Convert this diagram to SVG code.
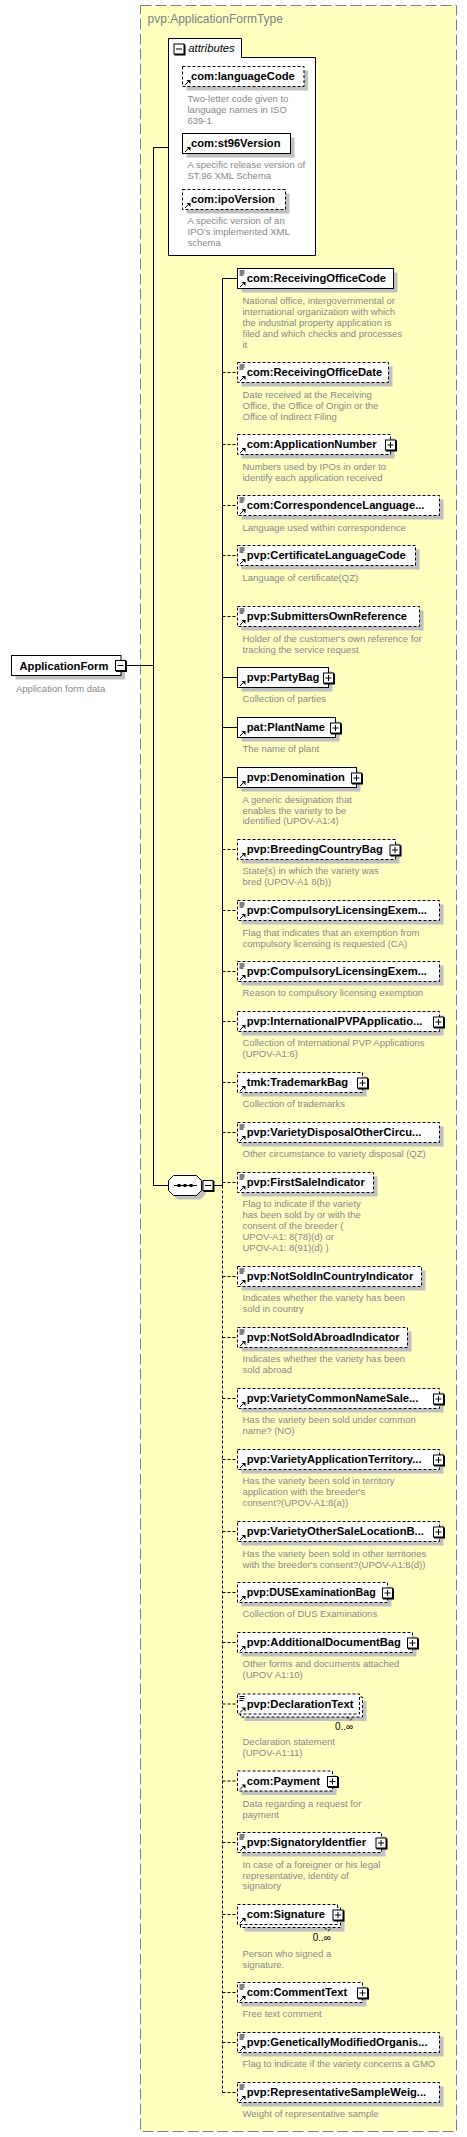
<svg xmlns="http://www.w3.org/2000/svg" width="467" height="2137" viewBox="0 0 467 2137">
<style>
.bg{fill:#ffffc0;stroke:#808080;stroke-dasharray:11 4}
.title{font:12px 'Liberation Sans',Arial,sans-serif;fill:#808080}
.sh{fill:#c0c0c0}
.box{fill:#fff;stroke:#000}
.dash{stroke-dasharray:3 2}
.lbl{font:bold 11.2px 'Liberation Sans',Arial,sans-serif;fill:#000}
.desc{font:9.5px 'Liberation Sans',Arial,sans-serif;fill:#888}
.mult{font:10px 'Liberation Sans',Arial,sans-serif;fill:#000}
.ln{fill:none;stroke:#000}
.ld{fill:none;stroke:#000;stroke-dasharray:3 2}
</style>
<defs>
<g id="list"><path d="M2 2.5h5M2 4.5h5M2 6.5h4" stroke="#000"/></g>
<g id="ref"><path d="M2.5 18.5L5.5 15.5" stroke="#000"/><path d="M4 13.5H8V17.5Z" fill="#000"/></g>
<g id="plus"><rect x="1" y="1" width="11" height="11" fill="#000"/><rect x="0.5" y="0.5" width="10" height="10" fill="#fff" stroke="#000"/><path d="M2.5 5.5h6M5.5 2.5v6" stroke="#000"/></g>
<g id="minus"><rect x="1" y="1" width="11" height="11" fill="#000"/><rect x="0.5" y="0.5" width="10" height="10" fill="#fff" stroke="#000"/><path d="M2.5 5.5h6" stroke="#000"/></g>
</defs>

<g id="type-box">
<rect class="bg" x="140.5" y="5.5" width="316" height="2126"/>
<text class="title" x="147.5" y="22.5">pvp:ApplicationFormType</text>
</g>

<g id="connectors">
<path class="ln" d="M126 665.5H153.5M153.5 147.5V1185.5M153.5 147.5H168.5M153.5 1185.5H168.5M213.5 1185.5H222.5M222.5 278.5V1185.5"/>
<path class="ld" d="M222.5 1185.5V2092.5"/>
<path class="ln" d="M222.5 278.5H237.5M222.5 677.5H237.5M222.5 727.5H237.5M222.5 777.5H237.5"/>
<path class="ld" d="M222.5 372.5H237.5M222.5 444.5H237.5M222.5 505.5H237.5M222.5 555.5H237.5M222.5 616.5H237.5M222.5 849.5H237.5M222.5 910.5H237.5M222.5 971.5H237.5M222.5 1021.5H237.5M222.5 1082.5H237.5M222.5 1132.5H237.5M222.5 1182.5H237.5M222.5 1276.5H237.5M222.5 1337.5H237.5M222.5 1398.5H237.5M222.5 1459.5H237.5M222.5 1531.5H237.5M222.5 1592.5H237.5M222.5 1642.5H237.5M222.5 1704H237.5M222.5 1781H237.5M222.5 1842.5H237.5M222.5 1914.5H237.5M222.5 1992.5H237.5M222.5 2042.5H237.5M222.5 2092.5H237.5"/>
</g>

<g id="ApplicationForm">
<rect class="sh" x="15.5" y="659.5" width="109.5" height="20"/>
<rect class="box" x="11.5" y="655.5" width="109.5" height="20"/>
<text class="lbl" x="19.5" y="669.5">ApplicationForm</text>
<use href="#minus" x="115" y="660"/>
<text class="desc" x="16" y="691.7">Application form data</text>
</g>

<g id="attributes">
<path class="box" d="M168.5 255.5V38.5H241.5V57.5H315.5V255.5Z"/>
<use href="#minus" x="173.5" y="43.5"/>
<text x="188.3" y="51.7" style="font:italic 11.3px 'Liberation Sans',Arial,sans-serif">attributes</text>
</g>

<g id="attr-languageCode">
<rect class="sh" x="186.5" y="70.5" width="121.5" height="20"/>
<rect class="box dash" x="182.5" y="66.5" width="121.5" height="20"/>
<use href="#ref" x="182.5" y="66.5"/>
<text class="lbl" x="191" y="80">com:languageCode</text>
<text class="desc" x="187.5" y="101.7">Two-letter code given to<tspan x="187.5" dy="10.9">language names in ISO</tspan><tspan x="187.5" dy="10.9">639-1</tspan></text>
</g>

<g id="attr-st96Version">
<rect class="sh" x="186.5" y="137.5" width="108" height="20"/>
<rect class="box" x="182.5" y="133.5" width="108" height="20"/>
<use href="#ref" x="182.5" y="133.5"/>
<text class="lbl" x="191" y="147">com:st96Version</text>
<text class="desc" x="187.5" y="168.3">A specific release version of<tspan x="187.5" dy="10.9">ST.96 XML Schema</tspan></text>
</g>

<g id="attr-ipoVersion">
<rect class="sh" x="186.5" y="193.5" width="103" height="20"/>
<rect class="box dash" x="182.5" y="189.5" width="103" height="20"/>
<use href="#ref" x="182.5" y="189.5"/>
<text class="lbl" x="191" y="203">com:ipoVersion</text>
<text class="desc" x="187.5" y="224.3">A specific version of an<tspan x="187.5" dy="10.9">IPO’s implemented XML</tspan><tspan x="187.5" dy="10.9">schema</tspan></text>
</g>

<g id="sequence">
<polygon class="sh" points="177.5,1179.5 200.5,1179.5 205.5,1184.5 205.5,1194.5 200.5,1199.5 177.5,1199.5 172.5,1194.5 172.5,1184.5"/>
<polygon class="box" points="173.5,1175.5 196.5,1175.5 201.5,1180.5 201.5,1190.5 196.5,1195.5 173.5,1195.5 168.5,1190.5 168.5,1180.5"/>
<path d="M174 1185.5H197" stroke="#000"/>
<rect x="177.5" y="1184" width="3" height="3" fill="#000"/>
<rect x="183.5" y="1184" width="3" height="3" fill="#000"/>
<rect x="189.5" y="1184" width="3" height="3" fill="#000"/>
<use href="#minus" x="202.5" y="1180"/>
</g>

<g id="n01">
<rect class="sh" x="241.5" y="272.5" width="156" height="20"/>
<rect class="box" x="237.5" y="268.5" width="156" height="20"/>
<use href="#list" x="237.5" y="268.5"/><use href="#ref" x="237.5" y="268.5"/>
<text class="lbl" x="246.7" y="282">com:ReceivingOfficeCode</text>
<text class="desc" x="242.5" y="304.3">National office, intergovernmental or<tspan x="242.5" dy="10.9">international organization with which</tspan><tspan x="242.5" dy="10.9">the industrial property application is</tspan><tspan x="242.5" dy="10.9">filed and which checks and processes</tspan><tspan x="242.5" dy="10.9">it</tspan></text>
</g>

<g id="n02">
<rect class="sh" x="241.5" y="366.5" width="151" height="20"/>
<rect class="box dash" x="237.5" y="362.5" width="151" height="20"/>
<use href="#list" x="237.5" y="362.5"/><use href="#ref" x="237.5" y="362.5"/>
<text class="lbl" x="246.7" y="376">com:ReceivingOfficeDate</text>
<text class="desc" x="242.5" y="398.3">Date received at the Receiving<tspan x="242.5" dy="10.8">Office, the Office of Origin or the</tspan><tspan x="242.5" dy="10.8">Office of Indirect Filing</tspan></text>
</g>

<g id="n03">
<rect class="sh" x="241.5" y="438.5" width="153" height="20"/>
<rect class="box dash" x="237.5" y="434.5" width="153" height="20"/>
<use href="#ref" x="237.5" y="434.5"/>
<text class="lbl" x="246.7" y="448">com:ApplicationNumber</text>
<use href="#plus" x="385" y="439.5"/>
<text class="desc" x="242.5" y="470">Numbers used by IPOs in order to<tspan x="242.5" dy="10.8">identify each application received</tspan></text>
</g>

<g id="n04">
<rect class="sh" x="241.5" y="499.5" width="202" height="20"/>
<rect class="box dash" x="237.5" y="495.5" width="202" height="20"/>
<use href="#list" x="237.5" y="495.5"/><use href="#ref" x="237.5" y="495.5"/>
<text class="lbl" x="246.7" y="509">com:CorrespondenceLanguage...</text>
<text class="desc" x="242.5" y="530.7">Language used within correspondence</text>
</g>

<g id="n05">
<rect class="sh" x="241.5" y="549.5" width="178" height="20"/>
<rect class="box dash" x="237.5" y="545.5" width="178" height="20"/>
<use href="#list" x="237.5" y="545.5"/><use href="#ref" x="237.5" y="545.5"/>
<text class="lbl" x="246.7" y="559">pvp:CertificateLanguageCode</text>
<text class="desc" x="242.5" y="580.7">Language of certificate(QZ)</text>
</g>

<g id="n06">
<rect class="sh" x="241.5" y="610.5" width="182" height="20"/>
<rect class="box dash" x="237.5" y="606.5" width="182" height="20"/>
<use href="#list" x="237.5" y="606.5"/><use href="#ref" x="237.5" y="606.5"/>
<text class="lbl" x="246.7" y="620">pvp:SubmittersOwnReference</text>
<text class="desc" x="242.5" y="641.7">Holder of the customer's own reference for<tspan x="242.5" dy="10.8">tracking the service request</tspan></text>
</g>

<g id="n07">
<rect class="sh" x="241.5" y="671.5" width="91" height="20"/>
<rect class="box" x="237.5" y="667.5" width="91" height="20"/>
<use href="#ref" x="237.5" y="667.5"/>
<text class="lbl" x="246.7" y="681">pvp:PartyBag</text>
<use href="#plus" x="323" y="672.5"/>
<text class="desc" x="242.5" y="702.3">Collection of parties</text>
</g>

<g id="n08">
<rect class="sh" x="241.5" y="721.5" width="98" height="20"/>
<rect class="box" x="237.5" y="717.5" width="98" height="20"/>
<use href="#ref" x="237.5" y="717.5"/>
<text class="lbl" x="246.7" y="731">pat:PlantName</text>
<use href="#plus" x="330" y="722.5"/>
<text class="desc" x="242.5" y="752.3">The name of plant</text>
</g>

<g id="n09">
<rect class="sh" x="241.5" y="771.5" width="119" height="20"/>
<rect class="box" x="237.5" y="767.5" width="119" height="20"/>
<use href="#ref" x="237.5" y="767.5"/>
<text class="lbl" x="246.7" y="781">pvp:Denomination</text>
<use href="#plus" x="351" y="772.5"/>
<text class="desc" x="242.5" y="802.7">A generic designation that<tspan x="242.5" dy="10.8">enables the variety to be</tspan><tspan x="242.5" dy="10.8">identified (UPOV-A1:4)</tspan></text>
</g>

<g id="n10">
<rect class="sh" x="241.5" y="843.5" width="158" height="20"/>
<rect class="box dash" x="237.5" y="839.5" width="158" height="20"/>
<use href="#ref" x="237.5" y="839.5"/>
<text class="lbl" x="246.7" y="853">pvp:BreedingCountryBag</text>
<use href="#plus" x="389.5" y="844.5"/>
<text class="desc" x="242.5" y="874.3">State(s) in which the variety was<tspan x="242.5" dy="10.8">bred (UPOV-A1 8(b))</tspan></text>
</g>

<g id="n11">
<rect class="sh" x="241.5" y="904.5" width="202" height="20"/>
<rect class="box dash" x="237.5" y="900.5" width="202" height="20"/>
<use href="#list" x="237.5" y="900.5"/><use href="#ref" x="237.5" y="900.5"/>
<text class="lbl" x="246.7" y="914">pvp:CompulsoryLicensingExem...</text>
<text class="desc" x="242.5" y="935.7">Flag that indicates that an exemption from<tspan x="242.5" dy="10.8">compulsory licensing is requested (CA)</tspan></text>
</g>

<g id="n12">
<rect class="sh" x="241.5" y="965.5" width="202" height="20"/>
<rect class="box dash" x="237.5" y="961.5" width="202" height="20"/>
<use href="#list" x="237.5" y="961.5"/><use href="#ref" x="237.5" y="961.5"/>
<text class="lbl" x="246.7" y="975">pvp:CompulsoryLicensingExem...</text>
<text class="desc" x="242.5" y="996">Reason to compulsory licensing exemption</text>
</g>

<g id="n13">
<rect class="sh" x="241.5" y="1015.5" width="202" height="20"/>
<rect class="box dash" x="237.5" y="1011.5" width="202" height="20"/>
<use href="#ref" x="237.5" y="1011.5"/>
<text class="lbl" x="246.7" y="1025">pvp:InternationalPVPApplicatio...</text>
<use href="#plus" x="433" y="1016.5"/>
<text class="desc" x="242.5" y="1046">Collection of International PVP Applications<tspan x="242.5" dy="10.9">(UPOV-A1:6)</tspan></text>
</g>

<g id="n14">
<rect class="sh" x="241.5" y="1076.5" width="125" height="20"/>
<rect class="box dash" x="237.5" y="1072.5" width="125" height="20"/>
<use href="#ref" x="237.5" y="1072.5"/>
<text class="lbl" x="246.7" y="1086">tmk:TrademarkBag</text>
<use href="#plus" x="357" y="1077.5"/>
<text class="desc" x="242.5" y="1106.7">Collection of trademarks</text>
</g>

<g id="n15">
<rect class="sh" x="241.5" y="1126.5" width="202" height="20"/>
<rect class="box dash" x="237.5" y="1122.5" width="202" height="20"/>
<use href="#list" x="237.5" y="1122.5"/><use href="#ref" x="237.5" y="1122.5"/>
<text class="lbl" x="246.7" y="1136">pvp:VarietyDisposalOtherCircu...</text>
<text class="desc" x="242.5" y="1157">Other circumstance to variety disposal (QZ)</text>
</g>

<g id="n16">
<rect class="sh" x="241.5" y="1176.5" width="136" height="20"/>
<rect class="box dash" x="237.5" y="1172.5" width="136" height="20"/>
<use href="#list" x="237.5" y="1172.5"/><use href="#ref" x="237.5" y="1172.5"/>
<text class="lbl" x="246.7" y="1186">pvp:FirstSaleIndicator</text>
<text class="desc" x="242.5" y="1207.3">Flag to indicate if the variety<tspan x="242.5" dy="10.9">has been sold by or with the</tspan><tspan x="242.5" dy="10.9">consent of the breeder (</tspan><tspan x="242.5" dy="10.9">UPOV-A1: 8(78)(d) or</tspan><tspan x="242.5" dy="10.9">UPOV-A1: 8(91)(d) )</tspan></text>
</g>

<g id="n17">
<rect class="sh" x="241.5" y="1270.5" width="184" height="20"/>
<rect class="box dash" x="237.5" y="1266.5" width="184" height="20"/>
<use href="#list" x="237.5" y="1266.5"/><use href="#ref" x="237.5" y="1266.5"/>
<text class="lbl" x="246.7" y="1280">pvp:NotSoldInCountryIndicator</text>
<text class="desc" x="242.5" y="1301.3">Indicates whether the variety has been<tspan x="242.5" dy="10.8">sold in country</tspan></text>
</g>

<g id="n18">
<rect class="sh" x="241.5" y="1331.5" width="170" height="20"/>
<rect class="box dash" x="237.5" y="1327.5" width="170" height="20"/>
<use href="#list" x="237.5" y="1327.5"/><use href="#ref" x="237.5" y="1327.5"/>
<text class="lbl" x="246.7" y="1341">pvp:NotSoldAbroadIndicator</text>
<text class="desc" x="242.5" y="1362.3">Indicates whether the variety has been<tspan x="242.5" dy="10.8">sold abroad</tspan></text>
</g>

<g id="n19">
<rect class="sh" x="241.5" y="1392.5" width="202" height="20"/>
<rect class="box dash" x="237.5" y="1388.5" width="202" height="20"/>
<use href="#ref" x="237.5" y="1388.5"/>
<text class="lbl" x="246.7" y="1402">pvp:VarietyCommonNameSale...</text>
<use href="#plus" x="433" y="1393.5"/>
<text class="desc" x="242.5" y="1423.3">Has the variety been sold under common<tspan x="242.5" dy="10.8">name? (NO)</tspan></text>
</g>

<g id="n20">
<rect class="sh" x="241.5" y="1453.5" width="202" height="20"/>
<rect class="box dash" x="237.5" y="1449.5" width="202" height="20"/>
<use href="#ref" x="237.5" y="1449.5"/>
<text class="lbl" x="246.7" y="1463">pvp:VarietyApplicationTerritory...</text>
<use href="#plus" x="433" y="1454.5"/>
<text class="desc" x="242.5" y="1484.3">Has the variety been sold in territory<tspan x="242.5" dy="10.8">application with the breeder's</tspan><tspan x="242.5" dy="10.8">consent?(UPOV-A1:8(a))</tspan></text>
</g>

<g id="n21">
<rect class="sh" x="241.5" y="1525.5" width="202" height="20"/>
<rect class="box dash" x="237.5" y="1521.5" width="202" height="20"/>
<use href="#ref" x="237.5" y="1521.5"/>
<text class="lbl" x="246.7" y="1535">pvp:VarietyOtherSaleLocationB...</text>
<use href="#plus" x="433" y="1526.5"/>
<text class="desc" x="242.5" y="1556.7">Has the variety been sold in other territories<tspan x="242.5" dy="10.8">with the breeder's consent?(UPOV-A1:8(d))</tspan></text>
</g>

<g id="n22">
<rect class="sh" x="241.5" y="1586.5" width="150" height="20"/>
<rect class="box dash" x="237.5" y="1582.5" width="150" height="20"/>
<use href="#ref" x="237.5" y="1582.5"/>
<text class="lbl" x="246.7" y="1596" textLength="129" lengthAdjust="spacingAndGlyphs">pvp:DUSExaminationBag</text>
<use href="#plus" x="382" y="1587.5"/>
<text class="desc" x="242.5" y="1616.7">Collection of DUS Examinations</text>
</g>

<g id="n23">
<rect class="sh" x="241.5" y="1636.5" width="175" height="20"/>
<rect class="box dash" x="237.5" y="1632.5" width="175" height="20"/>
<use href="#ref" x="237.5" y="1632.5"/>
<text class="lbl" x="246.7" y="1646">pvp:AdditionalDocumentBag</text>
<use href="#plus" x="407" y="1637.5"/>
<text class="desc" x="242.5" y="1666.7">Other forms and documents attached<tspan x="242.5" dy="10.9">(UPOV A1:10)</tspan></text>
</g>

<g id="n24">
<rect class="sh" x="244.5" y="1701" width="122" height="20"/>
<rect class="box dash" x="240.5" y="1697" width="122" height="20"/>
<rect class="box dash" x="237.5" y="1694" width="122" height="20"/>
<path class="ld" d="M346.5 1717L350 1720.5L353.5 1717"/>
<use href="#list" x="237.5" y="1694"/><use href="#ref" x="237.5" y="1694"/>
<text class="lbl" x="246.7" y="1707.5">pvp:DeclarationText</text>
<text class="mult" x="335" y="1730">0..∞</text>
<text class="desc" x="242.5" y="1745.3">Declaration statement<tspan x="242.5" dy="10.9">(UPOV-A1:11)</tspan></text>
</g>

<g id="n25">
<rect class="sh" x="241.5" y="1775" width="95" height="20"/>
<rect class="box dash" x="237.5" y="1771" width="95" height="20"/>
<use href="#ref" x="237.5" y="1771"/>
<text class="lbl" x="246.7" y="1784.5">com:Payment</text>
<use href="#plus" x="327" y="1776"/>
<text class="desc" x="242.5" y="1806.7">Data regarding a request for<tspan x="242.5" dy="10.8">payment</tspan></text>
</g>

<g id="n26">
<rect class="sh" x="241.5" y="1836.5" width="144" height="20"/>
<rect class="box dash" x="237.5" y="1832.5" width="144" height="20"/>
<use href="#list" x="237.5" y="1832.5"/><use href="#ref" x="237.5" y="1832.5"/>
<text class="lbl" x="246.7" y="1846">pvp:SignatoryIdentfier</text>
<use href="#plus" x="375.5" y="1837.5"/>
<text class="desc" x="242.5" y="1867.7">In case of a foreigner or his legal<tspan x="242.5" dy="10.8">representative, identity of</tspan><tspan x="242.5" dy="10.8">signatory</tspan></text>
</g>

<g id="n27">
<rect class="sh" x="244.5" y="1911.5" width="100" height="20"/>
<rect class="box dash" x="240.5" y="1907.5" width="100" height="20"/>
<rect class="box dash" x="237.5" y="1904.5" width="100" height="20"/>
<path class="ld" d="M324.5 1927.5L328 1931L331.5 1927.5"/>
<use href="#ref" x="237.5" y="1904.5"/>
<text class="lbl" x="246.7" y="1918">com:Signature</text>
<use href="#plus" x="332.5" y="1909.5"/>
<text class="mult" x="312.7" y="1940.7">0..∞</text>
<text class="desc" x="242.5" y="1956.7">Person who signed a<tspan x="242.5" dy="10.8">signature.</tspan></text>
</g>

<g id="n28">
<rect class="sh" x="241.5" y="1986.5" width="125" height="20"/>
<rect class="box dash" x="237.5" y="1982.5" width="125" height="20"/>
<use href="#list" x="237.5" y="1982.5"/><use href="#ref" x="237.5" y="1982.5"/>
<text class="lbl" x="246.7" y="1996">com:CommentText</text>
<use href="#plus" x="357" y="1987.5"/>
<text class="desc" x="242.5" y="2016.7">Free text comment</text>
</g>

<g id="n29">
<rect class="sh" x="241.5" y="2036.5" width="202" height="20"/>
<rect class="box dash" x="237.5" y="2032.5" width="202" height="20"/>
<use href="#list" x="237.5" y="2032.5"/><use href="#ref" x="237.5" y="2032.5"/>
<text class="lbl" x="246.7" y="2046">pvp:GeneticallyModifiedOrganis...</text>
<text class="desc" x="242.5" y="2067.3">Flag to indicate if the variety concerns a GMO</text>
</g>

<g id="n30">
<rect class="sh" x="241.5" y="2086.5" width="202" height="20"/>
<rect class="box dash" x="237.5" y="2082.5" width="202" height="20"/>
<use href="#list" x="237.5" y="2082.5"/><use href="#ref" x="237.5" y="2082.5"/>
<text class="lbl" x="246.7" y="2096">pvp:RepresentativeSampleWeig...</text>
<text class="desc" x="242.5" y="2117.3">Weight of representative sample</text>
</g>
</svg>
